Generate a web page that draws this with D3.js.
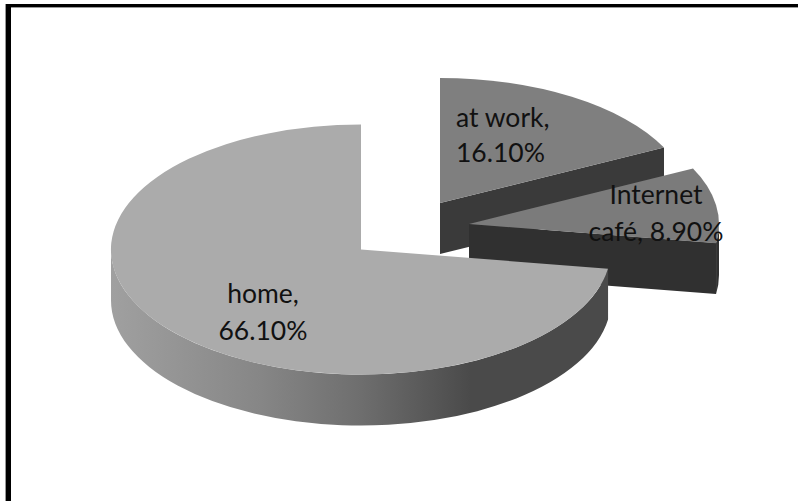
<!DOCTYPE html>
<html><head><meta charset="utf-8">
<style>html,body{margin:0;padding:0;background:#fff}svg{display:block}text{font-family:Lato,"Open Sans",sans-serif;font-size:26.5px;fill:#111}</style>
<script src="https://cdn.jsdelivr.net/npm/d3@7/dist/d3.min.js"></script></head>
<body><script>
const categories=["at work","Internet café","home"];
const values=[16.10,8.90,66.10];
const labelLines=[["at work,","16.10%"],["Internet","café, 8.90%"],["home,","66.10%"]];
const topColors=["#7f7f7f","#7b7b7b","#ababab"];
const faceColors=["#3a3a3a","#303030","#4a4a4a"];
const centers=[[440,203],[469,224],[361,249.5]];
const labelPos=[[456,127,"start",162],[656,204,"middle",241],[263,303,"middle",340]];
const W=798,H=501,rx=250,ry=125,depth=51;
const svg=d3.select("body").append("svg").attr("width",W).attr("height",H);
const defs=svg.append("defs");
const g=defs.append("linearGradient").attr("id","wall").attr("gradientUnits","userSpaceOnUse").attr("x1",111).attr("x2",611).attr("y1",0).attr("y2",0);
[[0,"#a0a0a0"],[.3,"#868686"],[.5,"#6e6e6e"],[.72,"#4a4a4a"],[1,"#4a4a4a"]].forEach(s=>g.append("stop").attr("offset",s[0]).attr("stop-color",s[1]));
svg.append("rect").attr("x",5).attr("y",4).attr("width",1).attr("height",H).attr("fill","#999");
svg.append("rect").attr("x",6).attr("y",7).attr("width",W).attr("height",1).attr("fill","#999");
svg.append("rect").attr("x",6).attr("y",4).attr("width",5).attr("height",H).attr("fill","#000");
svg.append("rect").attr("x",6).attr("y",4).attr("width",W).attr("height",3).attr("fill","#000");
const pie=d3.pie().sort(null).value(d=>d).startAngle(0).endAngle(2*Math.PI);
const arcs=pie(values);
const arc=d3.arc().innerRadius(0).outerRadius(1);
const px=(c,a)=>c[0]+rx*Math.sin(a), py=(c,a)=>c[1]-ry*Math.cos(a);
function wall(c,a0,a1){
  const large=(a1-a0)>Math.PI?1:0;
  return `M${px(c,a0)},${py(c,a0)}A${rx},${ry} 0 ${large} 1 ${px(c,a1)},${py(c,a1)}L${px(c,a1)},${py(c,a1)+depth}A${rx},${ry} 0 ${large} 0 ${px(c,a0)},${py(c,a0)+depth}Z`;
}
function cut(c,a){
  return `M${c[0]},${c[1]}L${px(c,a)},${py(c,a)}l0,${depth}L${c[0]},${c[1]+depth}Z`;
}
arcs.forEach((d,i)=>{
  const c=centers[i];
  const G=svg.append("g");
  if(i<2){
    G.append("path").attr("d",cut(c,d.endAngle)).attr("fill",faceColors[i]);
    G.append("path").attr("d",wall(c,Math.PI/2>d.startAngle?Math.PI/2:d.startAngle,d.endAngle>Math.PI/2?d.endAngle:Math.PI/2)).attr("fill",faceColors[i]);
  } else {
    G.append("path").attr("d",wall(c,d.startAngle,1.5*Math.PI)).attr("fill","url(#wall)");
  }
  G.append("path").attr("d",arc(d)).attr("transform",`translate(${c[0]},${c[1]}) scale(${rx},${ry})`).attr("fill",topColors[i]);
});
arcs.forEach((d,i)=>{
  const p=labelPos[i];
  labelLines[i].forEach((t,j)=>svg.append("text").attr("x",p[0]).attr("y",j?p[3]:p[1]).attr("text-anchor",p[2]).text(t));
});
</script></body></html>
